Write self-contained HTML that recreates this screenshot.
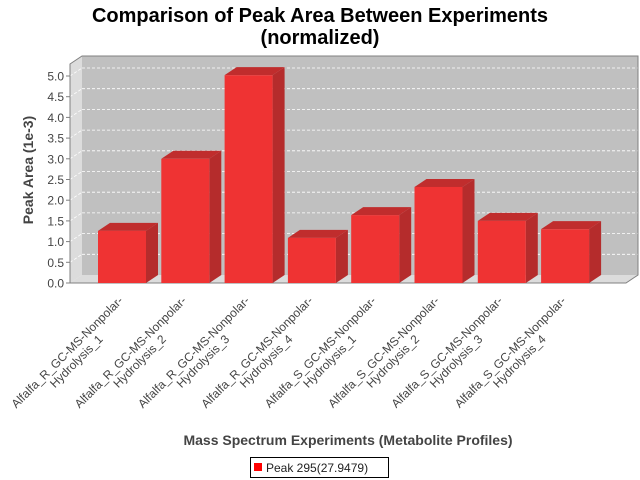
<!DOCTYPE html>
<html><head><meta charset="utf-8"><style>
body{margin:0;background:#fff;}
svg{display:block;font-family:"Liberation Sans","DejaVu Sans",sans-serif;}
</style></head><body>
<svg id="chart" width="640" height="480" viewBox="0 0 640 480">
<text x="320" y="22" text-anchor="middle" font-size="20" font-weight="bold" fill="#000"><tspan x="320">Comparison of Peak Area Between Experiments</tspan><tspan x="320" dy="22">(normalized)</tspan></text>
<polygon points="70,64 82,56 82,275 70,283" fill="#dcdcdc"/>
<polygon points="70,283 82,275 638,275 626,283" fill="#dcdcdc"/>
<rect x="82" y="56" width="556" height="219" fill="#c0c0c0"/>
<g id="grid"></g>
<polygon points="70,64 82,56 638,56 638,275 626,283 70,283" fill="none" stroke="#808080" stroke-width="1"/>
<g id="yaxis"></g>
<g id="bars"></g>
<g id="xlabels"></g>
<text transform="translate(33,170) rotate(-90)" text-anchor="middle" font-size="14" font-weight="bold" fill="#444">Peak Area (1e-3)</text>
<text x="348" y="445" text-anchor="middle" font-size="14" font-weight="bold" fill="#444">Mass Spectrum Experiments (Metabolite Profiles)</text>
<g>
<rect x="250.5" y="457.5" width="138" height="20" fill="#fff" stroke="#000"/>
<rect x="254" y="463" width="8" height="8" fill="#ff0000"/>
<text x="266" y="472" font-size="12" fill="#222">Peak 295(27.9479)</text>
</g>
</svg>
<script>
const categories=["Alfalfa_R_GC-MS-Nonpolar-|Hydrolysis_1","Alfalfa_R_GC-MS-Nonpolar-|Hydrolysis_2","Alfalfa_R_GC-MS-Nonpolar-|Hydrolysis_3","Alfalfa_R_GC-MS-Nonpolar-|Hydrolysis_4","Alfalfa_S_GC-MS-Nonpolar-|Hydrolysis_1","Alfalfa_S_GC-MS-Nonpolar-|Hydrolysis_2","Alfalfa_S_GC-MS-Nonpolar-|Hydrolysis_3","Alfalfa_S_GC-MS-Nonpolar-|Hydrolysis_4"];
const values=[1.26,3.0,5.02,1.09,1.64,2.32,1.5,1.3];
const yTicks=[0,0.5,1,1.5,2,2.5,3,3.5,4,4.5,5];
const NS="http://www.w3.org/2000/svg";
const y0=283,pxPer=41.4,DX=12,DY=8,barW=48;
function yScale(v){return y0-v*pxPer;}
function xCenter(i){return 122+i*63.3;}
function mk(tag,attrs,parent){const e=document.createElementNS(NS,tag);for(const k in attrs)e.setAttribute(k,attrs[k]);parent.appendChild(e);return e;}
const grid=document.getElementById('grid'),yax=document.getElementById('yaxis'),bars=document.getElementById('bars'),xl=document.getElementById('xlabels');
yTicks.forEach(t=>{
  const y=yScale(t);
  if(t>0){
    const g=mk('line',{x1:82,y1:y-DY,x2:638,y2:y-DY,stroke:'#fff','stroke-width':0.8,'stroke-dasharray':'3,2'},grid);
    
    
    const g2=mk('line',{x1:70,y1:y,x2:82,y2:y-DY,stroke:'#fff','stroke-width':0.8,'stroke-dasharray':'3,2'},grid);
    
    
  }
  const tk=mk('line',{x1:66,y1:y,x2:70,y2:y,stroke:'#808080'},yax);
  
  
  const tx=mk('text',{x:64,y:y+4.5,'text-anchor':'end','font-size':12,fill:'#444'},yax);
  tx.textContent=t.toFixed(1);
  
  
});
values.forEach((v,i)=>{
  const x=xCenter(i)-barW/2,yt=yScale(v);
  const g=mk('g',{},bars);
  
  
  mk('polygon',{points:`${x+barW},${yt} ${x+barW+DX},${yt-DY} ${x+barW+DX},${y0-DY} ${x+barW},${y0}`,fill:'#b52c2c'},g);
  mk('polygon',{points:`${x},${yt} ${x+DX},${yt-DY} ${x+barW+DX},${yt-DY} ${x+barW},${yt}`,fill:'#c02d2d'},g);
  mk('rect',{x:x,y:yt,width:barW,height:y0-yt,fill:'#ef3333'},g);
  const parts=categories[i].split('|');
  const cx=70+i*63.3,cy=355;
  const t=mk('text',{transform:`translate(${cx},${cy}) rotate(-45)`,'text-anchor':'middle','font-size':12,fill:'#444'},xl);
  
  
  const a=mk('tspan',{x:0,y:0},t);a.textContent=parts[0];
  const b=mk('tspan',{x:0,y:13},t);b.textContent=parts[1];
});
</script>
</body></html>
